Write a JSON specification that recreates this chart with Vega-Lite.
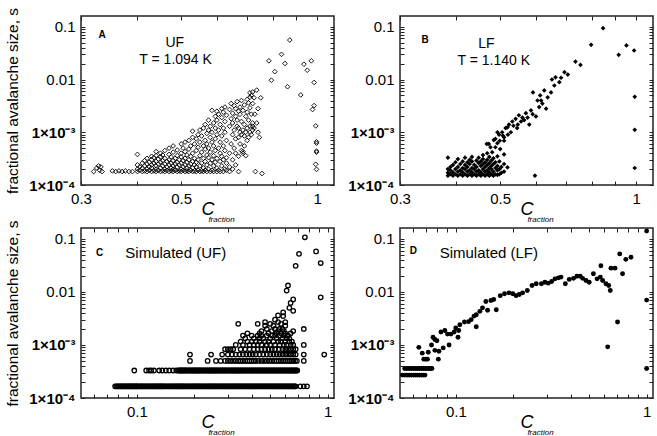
{
"$schema": "https://vega.github.io/schema/vega-lite/v6.json",
"padding": {"left": 5, "top": 6, "right": 0, "bottom": 0},
"background": "white",
"datasets": {
"a": [
{"c":0.32,"s":0.00018},{"c":0.325,"s":0.00021},{"c":0.328,"s":0.00023},{"c":0.33,"s":0.00019},{"c":0.332,"s":0.00022},{"c":0.334,"s":0.00018},
{"c":0.352,"s":0.000185},{"c":0.358,"s":0.00018},{"c":0.364,"s":0.000185},{"c":0.37,"s":0.00018},{"c":0.376,"s":0.000185},{"c":0.383,"s":0.00018},{"c":0.39,"s":0.00018},
{"c":0.40,"s":0.00018},{"c":0.40,"s":0.0002},{"c":0.40,"s":0.00024},{"c":0.40,"s":0.00038},
{"c":0.405,"s":0.00019},{"c":0.405,"s":0.00022},
{"c":0.41,"s":0.00018},{"c":0.41,"s":0.00021},{"c":0.41,"s":0.00026},
{"c":0.415,"s":0.000185},{"c":0.415,"s":0.00023},{"c":0.415,"s":0.00029},
{"c":0.42,"s":0.00018},{"c":0.42,"s":0.0002},{"c":0.42,"s":0.00025},{"c":0.42,"s":0.00032},
{"c":0.425,"s":0.00019},{"c":0.425,"s":0.00022},{"c":0.425,"s":0.00027},
{"c":0.43,"s":0.00018},{"c":0.43,"s":0.00021},{"c":0.43,"s":0.00024},{"c":0.43,"s":0.0003},{"c":0.43,"s":0.00035},
{"c":0.435,"s":0.000185},{"c":0.435,"s":0.00026},{"c":0.435,"s":0.00033},
{"c":0.44,"s":0.00018},{"c":0.44,"s":0.0002},{"c":0.44,"s":0.00023},{"c":0.44,"s":0.00028},{"c":0.44,"s":0.00036},{"c":0.44,"s":0.00043},
{"c":0.445,"s":0.00019},{"c":0.445,"s":0.00025},{"c":0.445,"s":0.00031},
{"c":0.45,"s":0.00018},{"c":0.45,"s":0.00021},{"c":0.45,"s":0.00027},{"c":0.45,"s":0.00034},{"c":0.45,"s":0.0004},
{"c":0.455,"s":0.000185},{"c":0.455,"s":0.00023},{"c":0.455,"s":0.00029},{"c":0.455,"s":0.00037},
{"c":0.46,"s":0.00018},{"c":0.46,"s":0.0002},{"c":0.46,"s":0.00025},{"c":0.46,"s":0.00032},{"c":0.46,"s":0.00045},
{"c":0.465,"s":0.00019},{"c":0.465,"s":0.00022},{"c":0.465,"s":0.00028},
{"c":0.47,"s":0.00018},{"c":0.47,"s":0.00024},{"c":0.47,"s":0.0003},{"c":0.47,"s":0.00038},{"c":0.47,"s":0.0005},
{"c":0.475,"s":0.000185},{"c":0.475,"s":0.00021},{"c":0.475,"s":0.00026},{"c":0.475,"s":0.00034},
{"c":0.48,"s":0.00018},{"c":0.48,"s":0.0002},{"c":0.48,"s":0.00023},{"c":0.48,"s":0.00029},{"c":0.48,"s":0.00042},{"c":0.48,"s":0.00055},
{"c":0.485,"s":0.00019},{"c":0.485,"s":0.00025},{"c":0.485,"s":0.00032},
{"c":0.49,"s":0.00018},{"c":0.49,"s":0.00022},{"c":0.49,"s":0.00027},{"c":0.49,"s":0.00036},{"c":0.49,"s":0.00046},
{"c":0.495,"s":0.000185},{"c":0.495,"s":0.00024},{"c":0.495,"s":0.0003},
{"c":0.5,"s":0.00018},{"c":0.5,"s":0.0002},{"c":0.5,"s":0.00026},{"c":0.5,"s":0.00034},{"c":0.5,"s":0.0004},{"c":0.5,"s":0.0006},
{"c":0.505,"s":0.00019},{"c":0.505,"s":0.00022},{"c":0.505,"s":0.00029},{"c":0.505,"s":0.0005},
{"c":0.51,"s":0.00018},{"c":0.51,"s":0.00024},{"c":0.51,"s":0.00032},{"c":0.51,"s":0.00043},{"c":0.51,"s":0.00065},
{"c":0.515,"s":0.000185},{"c":0.515,"s":0.00021},{"c":0.515,"s":0.00027},{"c":0.515,"s":0.00037},
{"c":0.52,"s":0.00018},{"c":0.52,"s":0.00023},{"c":0.52,"s":0.0003},{"c":0.52,"s":0.00048},{"c":0.52,"s":0.0007},
{"c":0.525,"s":0.00019},{"c":0.525,"s":0.00025},{"c":0.525,"s":0.00035},{"c":0.525,"s":0.00055},
{"c":0.53,"s":0.00018},{"c":0.53,"s":0.00021},{"c":0.53,"s":0.00028},{"c":0.53,"s":0.0004},{"c":0.53,"s":0.0008},{"c":0.53,"s":0.00105},
{"c":0.535,"s":0.000185},{"c":0.535,"s":0.00024},{"c":0.535,"s":0.00032},{"c":0.535,"s":0.0006},
{"c":0.54,"s":0.00018},{"c":0.54,"s":0.00022},{"c":0.54,"s":0.00027},{"c":0.54,"s":0.00045},{"c":0.54,"s":0.00075},
{"c":0.545,"s":0.00019},{"c":0.545,"s":0.0003},{"c":0.545,"s":0.00052},{"c":0.545,"s":0.0009},
{"c":0.55,"s":0.00018},{"c":0.55,"s":0.00023},{"c":0.55,"s":0.00036},{"c":0.55,"s":0.00065},{"c":0.55,"s":0.0011},
{"c":0.555,"s":0.000185},{"c":0.555,"s":0.00026},{"c":0.555,"s":0.00042},{"c":0.555,"s":0.00085},
{"c":0.56,"s":0.00018},{"c":0.56,"s":0.00021},{"c":0.56,"s":0.00032},{"c":0.56,"s":0.00055},{"c":0.56,"s":0.0012},
{"c":0.565,"s":0.00019},{"c":0.565,"s":0.00028},{"c":0.565,"s":0.00048},{"c":0.565,"s":0.0007},{"c":0.565,"s":0.0014},
{"c":0.57,"s":0.00018},{"c":0.57,"s":0.00024},{"c":0.57,"s":0.00037},{"c":0.57,"s":0.0006},{"c":0.57,"s":0.00095},
{"c":0.575,"s":0.0002},{"c":0.575,"s":0.00033},{"c":0.575,"s":0.0005},{"c":0.575,"s":0.0011},{"c":0.575,"s":0.0017},
{"c":0.58,"s":0.00018},{"c":0.58,"s":0.00026},{"c":0.58,"s":0.00042},{"c":0.58,"s":0.0008},{"c":0.58,"s":0.0013},
{"c":0.585,"s":0.00019},{"c":0.585,"s":0.0003},{"c":0.585,"s":0.00065},{"c":0.585,"s":0.001},{"c":0.585,"s":0.0026},
{"c":0.59,"s":0.00018},{"c":0.59,"s":0.00023},{"c":0.59,"s":0.00036},{"c":0.59,"s":0.00055},{"c":0.59,"s":0.0015},
{"c":0.595,"s":0.00027},{"c":0.595,"s":0.00045},{"c":0.595,"s":0.00075},{"c":0.595,"s":0.0012},{"c":0.595,"s":0.002},
{"c":0.6,"s":0.00018},{"c":0.6,"s":0.00021},{"c":0.6,"s":0.00032},{"c":0.6,"s":0.0009},{"c":0.6,"s":0.0017},{"c":0.6,"s":0.0025},
{"c":0.605,"s":0.00019},{"c":0.605,"s":0.0005},{"c":0.605,"s":0.0011},{"c":0.605,"s":0.0022},
{"c":0.61,"s":0.00018},{"c":0.61,"s":0.00028},{"c":0.61,"s":0.0004},{"c":0.61,"s":0.00065},{"c":0.61,"s":0.0014},
{"c":0.615,"s":0.00023},{"c":0.615,"s":0.00035},{"c":0.615,"s":0.00085},{"c":0.615,"s":0.0019},{"c":0.615,"s":0.0028},
{"c":0.62,"s":0.00018},{"c":0.62,"s":0.0003},{"c":0.62,"s":0.00055},{"c":0.62,"s":0.0012},{"c":0.62,"s":0.0024},
{"c":0.625,"s":0.0002},{"c":0.625,"s":0.00045},{"c":0.625,"s":0.001},{"c":0.625,"s":0.0016},{"c":0.625,"s":0.003},
{"c":0.63,"s":0.00019},{"c":0.63,"s":0.00026},{"c":0.63,"s":0.00033},{"c":0.63,"s":0.0007},{"c":0.63,"s":0.0021},
{"c":0.64,"s":0.00018},{"c":0.64,"s":0.00022},{"c":0.64,"s":0.0004},{"c":0.64,"s":0.0013},{"c":0.64,"s":0.0027},
{"c":0.645,"s":0.0006},{"c":0.645,"s":0.0018},{"c":0.645,"s":0.0035},
{"c":0.65,"s":0.0002},{"c":0.65,"s":0.0003},{"c":0.65,"s":0.0009},{"c":0.65,"s":0.0015},{"c":0.65,"s":0.0023},
{"c":0.655,"s":0.0005},{"c":0.655,"s":0.0011},{"c":0.655,"s":0.0032},
{"c":0.66,"s":0.00024},{"c":0.66,"s":0.0004},{"c":0.66,"s":0.00075},{"c":0.66,"s":0.002},{"c":0.66,"s":0.0028},
{"c":0.665,"s":0.0013},{"c":0.665,"s":0.0017},{"c":0.665,"s":0.0038},
{"c":0.67,"s":0.00018},{"c":0.67,"s":0.00035},{"c":0.67,"s":0.0008},{"c":0.67,"s":0.0012},{"c":0.67,"s":0.0025},
{"c":0.675,"s":0.0006},{"c":0.675,"s":0.001},{"c":0.675,"s":0.0022},{"c":0.675,"s":0.003},
{"c":0.68,"s":0.00045},{"c":0.68,"s":0.0009},{"c":0.68,"s":0.0016},{"c":0.68,"s":0.004},
{"c":0.685,"s":0.0004},{"c":0.685,"s":0.00043},{"c":0.685,"s":0.0011},{"c":0.685,"s":0.0026},
{"c":0.69,"s":0.00055},{"c":0.69,"s":0.00085},{"c":0.69,"s":0.0014},{"c":0.69,"s":0.0033},
{"c":0.695,"s":0.00036},{"c":0.695,"s":0.001},{"c":0.695,"s":0.002},
{"c":0.7,"s":0.0007},{"c":0.7,"s":0.0012},{"c":0.7,"s":0.0024},{"c":0.7,"s":0.0042},
{"c":0.705,"s":0.0008},{"c":0.705,"s":0.0017},{"c":0.705,"s":0.0036},
{"c":0.71,"s":0.001},{"c":0.71,"s":0.0013},{"c":0.71,"s":0.0029},{"c":0.71,"s":0.0046},{"c":0.71,"s":0.0056},
{"c":0.715,"s":0.0009},{"c":0.715,"s":0.0022},{"c":0.715,"s":0.005},
{"c":0.72,"s":0.0011},{"c":0.72,"s":0.0015},{"c":0.72,"s":0.0035},{"c":0.72,"s":0.0058},{"c":0.72,"s":0.0013},
{"c":0.725,"s":0.0012},{"c":0.725,"s":0.0045},{"c":0.728,"s":0.0022},{"c":0.735,"s":0.0015},{"c":0.735,"s":0.0063},
{"c":0.74,"s":0.001},{"c":0.74,"s":0.0028},{"c":0.745,"s":0.0008},{"c":0.75,"s":0.0045},
{"c":0.73,"s":0.00018},{"c":0.755,"s":0.000165},
{"c":0.87,"s":0.056},{"c":0.782,"s":0.0226},{"c":0.806,"s":0.0141},{"c":0.792,"s":0.0097},{"c":0.834,"s":0.030},{"c":0.849,"s":0.0201},{"c":0.86,"s":0.0073},{"c":0.92,"s":0.0051},{"c":0.935,"s":0.0195},{"c":0.951,"s":0.015},{"c":0.971,"s":0.0226},{"c":0.985,"s":0.0088},{"c":0.985,"s":0.0032},{"c":0.977,"s":0.0027},{"c":0.993,"s":0.00132},{"c":0.997,"s":0.00066},{"c":0.997,"s":0.00062},{"c":0.997,"s":0.00044},{"c":0.997,"s":0.00042},{"c":0.993,"s":0.000247},{"c":0.997,"s":0.000198}
],
"b": [
{"c":0.734,"s":0.0219},{"c":0.753,"s":0.0189},{"c":0.706,"s":0.0124},{"c":0.694,"s":0.0138},{"c":0.682,"s":0.0108},{"c":0.676,"s":0.0089},{"c":0.651,"s":0.010},{"c":0.659,"s":0.0077},{"c":0.626,"s":0.0062},{"c":0.613,"s":0.005},{"c":0.591,"s":0.0057},{"c":0.605,"s":0.004},{"c":0.632,"s":0.0028},{"c":0.61,"s":0.003},{"c":0.585,"s":0.0026},{"c":0.57,"s":0.0023},{"c":0.56,"s":0.0019},{"c":0.55,"s":0.0021},{"c":0.541,"s":0.0018},{"c":0.532,"s":0.0016},{"c":0.523,"s":0.0014},{"c":0.514,"s":0.0012},{"c":0.505,"s":0.001},{"c":0.497,"s":0.0009},{"c":0.493,"s":0.00062},{"c":0.488,"s":0.00052},{"c":0.484,"s":0.00071},{"c":0.48,"s":0.00042},{"c":0.5,"s":0.00048},{"c":0.51,"s":0.00069},{"c":0.528,"s":0.001},{"c":0.547,"s":0.0014},{"c":0.556,"s":0.0016},{"c":0.575,"s":0.0019},{"c":0.58,"s":0.0014},{"c":0.6,"s":0.002},{"c":0.616,"s":0.004},{"c":0.637,"s":0.0046},{"c":0.648,"s":0.0057},{"c":0.663,"s":0.011},{"c":0.519,"s":0.00124},{"c":0.535,"s":0.00133},{"c":0.507,"s":0.00086},{"c":0.499,"s":0.00069},{"c":0.493,"s":0.001},{"c":0.488,"s":0.00075},{"c":0.476,"s":0.00052},{"c":0.472,"s":0.0006},{"c":0.467,"s":0.0006},{"c":0.565,"s":0.0017},{"c":0.59,"s":0.0022},{"c":0.62,"s":0.0035},{"c":0.545,"s":0.0012},{"c":0.52,"s":0.0009},{"c":0.51,"s":0.0008},
{"c":0.845,"s":0.094},{"c":0.795,"s":0.0455},{"c":0.915,"s":0.0294},{"c":0.952,"s":0.0443},{"c":0.99,"s":0.0355},{"c":0.993,"s":0.0047},{"c":0.993,"s":0.00111},{"c":0.993,"s":0.00021},{"c":0.597,"s":0.00015},{"c":0.519,"s":0.000216},
{"c":0.383,"s":0.00015},{"c":0.383,"s":0.00017},{"c":0.383,"s":0.0002},{"c":0.383,"s":0.00033},
{"c":0.388,"s":0.00016},{"c":0.388,"s":0.00019},{"c":0.388,"s":0.00022},
{"c":0.393,"s":0.00015},{"c":0.393,"s":0.000175},{"c":0.393,"s":0.00024},
{"c":0.398,"s":0.00016},{"c":0.398,"s":0.0002},{"c":0.398,"s":0.00027},
{"c":0.403,"s":0.00015},{"c":0.403,"s":0.00018},{"c":0.403,"s":0.00022},{"c":0.403,"s":0.00031},
{"c":0.408,"s":0.00016},{"c":0.408,"s":0.00019},{"c":0.408,"s":0.00025},
{"c":0.413,"s":0.00015},{"c":0.413,"s":0.000175},{"c":0.413,"s":0.00021},{"c":0.413,"s":0.00028},
{"c":0.418,"s":0.00016},{"c":0.418,"s":0.0002},{"c":0.418,"s":0.00024},{"c":0.418,"s":0.00033},
{"c":0.423,"s":0.00015},{"c":0.423,"s":0.00018},{"c":0.423,"s":0.00022},{"c":0.423,"s":0.00027},
{"c":0.428,"s":0.00016},{"c":0.428,"s":0.00019},{"c":0.428,"s":0.00025},{"c":0.428,"s":0.0003},
{"c":0.433,"s":0.00015},{"c":0.433,"s":0.000175},{"c":0.433,"s":0.00021},{"c":0.433,"s":0.00028},{"c":0.433,"s":0.00034},
{"c":0.438,"s":0.00016},{"c":0.438,"s":0.0002},{"c":0.438,"s":0.00024},
{"c":0.443,"s":0.00015},{"c":0.443,"s":0.00018},{"c":0.443,"s":0.00022},{"c":0.443,"s":0.00029},
{"c":0.448,"s":0.00016},{"c":0.448,"s":0.00019},{"c":0.448,"s":0.00026},{"c":0.448,"s":0.00033},
{"c":0.453,"s":0.00015},{"c":0.453,"s":0.000175},{"c":0.453,"s":0.00023},{"c":0.453,"s":0.00028},
{"c":0.458,"s":0.00016},{"c":0.458,"s":0.0002},{"c":0.458,"s":0.00025},{"c":0.458,"s":0.00031},{"c":0.458,"s":0.00037},
{"c":0.463,"s":0.00015},{"c":0.463,"s":0.00018},{"c":0.463,"s":0.00022},{"c":0.463,"s":0.00027},
{"c":0.468,"s":0.00016},{"c":0.468,"s":0.00019},{"c":0.468,"s":0.00024},{"c":0.468,"s":0.0003},{"c":0.468,"s":0.0004},
{"c":0.473,"s":0.00015},{"c":0.473,"s":0.000175},{"c":0.473,"s":0.00021},{"c":0.473,"s":0.00026},{"c":0.473,"s":0.00034},
{"c":0.478,"s":0.00016},{"c":0.478,"s":0.0002},{"c":0.478,"s":0.00023},{"c":0.478,"s":0.00029},
{"c":0.483,"s":0.00015},{"c":0.483,"s":0.00018},{"c":0.483,"s":0.00025},{"c":0.483,"s":0.00032},
{"c":0.488,"s":0.00016},{"c":0.488,"s":0.00021},{"c":0.488,"s":0.00027},
{"c":0.493,"s":0.000155},{"c":0.493,"s":0.00019},{"c":0.493,"s":0.00023},{"c":0.493,"s":0.00035},
{"c":0.498,"s":0.00016},{"c":0.498,"s":0.0002},{"c":0.498,"s":0.00028},
{"c":0.503,"s":0.00017},{"c":0.503,"s":0.00022},
{"c":0.51,"s":0.00018},{"c":0.51,"s":0.00025},{"c":0.51,"s":0.00038}
],
"c": [
{"c":0.077,"s":0.000166},{"c":0.078,"s":0.000166},{"c":0.079,"s":0.000166},{"c":0.08,"s":0.000166},{"c":0.081,"s":0.000166},{"c":0.082,"s":0.000166},{"c":0.083,"s":0.000166},{"c":0.084,"s":0.000166},{"c":0.085,"s":0.000166},{"c":0.086,"s":0.000166},{"c":0.087,"s":0.000166},{"c":0.088,"s":0.000166},{"c":0.089,"s":0.000166},{"c":0.09,"s":0.000166},{"c":0.091,"s":0.000166},{"c":0.092,"s":0.000166},{"c":0.093,"s":0.000166},{"c":0.094,"s":0.000166},{"c":0.095,"s":0.000166},{"c":0.096,"s":0.000166},{"c":0.097,"s":0.000166},{"c":0.098,"s":0.000166},{"c":0.099,"s":0.000166},{"c":0.1,"s":0.000166},{"c":0.101,"s":0.000166},{"c":0.102,"s":0.000166},{"c":0.1035,"s":0.000166},{"c":0.105,"s":0.000166},{"c":0.106,"s":0.000166},{"c":0.107,"s":0.000166},{"c":0.1085,"s":0.000166},{"c":0.11,"s":0.000166},{"c":0.111,"s":0.000166},{"c":0.1125,"s":0.000166},{"c":0.114,"s":0.000166},{"c":0.1155,"s":0.000166},{"c":0.117,"s":0.000166},{"c":0.1185,"s":0.000166},{"c":0.12,"s":0.000166},{"c":0.1215,"s":0.000166},{"c":0.123,"s":0.000166},{"c":0.1245,"s":0.000166},{"c":0.126,"s":0.000166},{"c":0.1275,"s":0.000166},{"c":0.129,"s":0.000166},{"c":0.1305,"s":0.000166},{"c":0.132,"s":0.000166},{"c":0.1335,"s":0.000166},{"c":0.135,"s":0.000166},{"c":0.1365,"s":0.000166},{"c":0.138,"s":0.000166},{"c":0.14,"s":0.000166},{"c":0.142,"s":0.000166},{"c":0.144,"s":0.000166},{"c":0.146,"s":0.000166},{"c":0.148,"s":0.000166},{"c":0.15,"s":0.000166},{"c":0.152,"s":0.000166},{"c":0.154,"s":0.000166},{"c":0.156,"s":0.000166},{"c":0.158,"s":0.000166},{"c":0.16,"s":0.000166},{"c":0.162,"s":0.000166},{"c":0.164,"s":0.000166},{"c":0.166,"s":0.000166},{"c":0.168,"s":0.000166},{"c":0.17,"s":0.000166},{"c":0.172,"s":0.000166},{"c":0.174,"s":0.000166},{"c":0.176,"s":0.000166},{"c":0.178,"s":0.000166},{"c":0.1805,"s":0.000166},{"c":0.183,"s":0.000166},{"c":0.1855,"s":0.000166},{"c":0.188,"s":0.000166},{"c":0.1905,"s":0.000166},{"c":0.193,"s":0.000166},{"c":0.1955,"s":0.000166},{"c":0.198,"s":0.000166},{"c":0.2005,"s":0.000166},{"c":0.203,"s":0.000166},{"c":0.2055,"s":0.000166},{"c":0.208,"s":0.000166},{"c":0.2105,"s":0.000166},{"c":0.213,"s":0.000166},{"c":0.216,"s":0.000166},{"c":0.219,"s":0.000166},{"c":0.222,"s":0.000166},{"c":0.225,"s":0.000166},{"c":0.228,"s":0.000166},{"c":0.231,"s":0.000166},{"c":0.234,"s":0.000166},{"c":0.237,"s":0.000166},{"c":0.24,"s":0.000166},{"c":0.243,"s":0.000166},{"c":0.246,"s":0.000166},{"c":0.249,"s":0.000166},{"c":0.252,"s":0.000166},{"c":0.255,"s":0.000166},{"c":0.2585,"s":0.000166},{"c":0.262,"s":0.000166},{"c":0.2655,"s":0.000166},{"c":0.269,"s":0.000166},{"c":0.2725,"s":0.000166},{"c":0.276,"s":0.000166},{"c":0.2795,"s":0.000166},{"c":0.283,"s":0.000166},{"c":0.2865,"s":0.000166},{"c":0.29,"s":0.000166},{"c":0.2935,"s":0.000166},{"c":0.297,"s":0.000166},{"c":0.301,"s":0.000166},{"c":0.305,"s":0.000166},{"c":0.309,"s":0.000166},{"c":0.313,"s":0.000166},{"c":0.317,"s":0.000166},{"c":0.321,"s":0.000166},{"c":0.325,"s":0.000166},{"c":0.329,"s":0.000166},{"c":0.333,"s":0.000166},{"c":0.337,"s":0.000166},{"c":0.3415,"s":0.000166},{"c":0.346,"s":0.000166},{"c":0.3505,"s":0.000166},{"c":0.355,"s":0.000166},{"c":0.3595,"s":0.000166},{"c":0.364,"s":0.000166},{"c":0.3685,"s":0.000166},{"c":0.373,"s":0.000166},{"c":0.378,"s":0.000166},{"c":0.383,"s":0.000166},{"c":0.388,"s":0.000166},{"c":0.393,"s":0.000166},{"c":0.398,"s":0.000166},{"c":0.403,"s":0.000166},{"c":0.408,"s":0.000166},{"c":0.413,"s":0.000166},{"c":0.4185,"s":0.000166},{"c":0.424,"s":0.000166},{"c":0.4295,"s":0.000166},{"c":0.435,"s":0.000166},{"c":0.4405,"s":0.000166},{"c":0.446,"s":0.000166},{"c":0.4515,"s":0.000166},{"c":0.457,"s":0.000166},{"c":0.463,"s":0.000166},{"c":0.469,"s":0.000166},{"c":0.475,"s":0.000166},{"c":0.481,"s":0.000166},{"c":0.487,"s":0.000166},{"c":0.493,"s":0.000166},{"c":0.4995,"s":0.000166},{"c":0.506,"s":0.000166},{"c":0.5125,"s":0.000166},{"c":0.519,"s":0.000166},{"c":0.5255,"s":0.000166},{"c":0.532,"s":0.000166},{"c":0.539,"s":0.000166},{"c":0.546,"s":0.000166},{"c":0.553,"s":0.000166},{"c":0.56,"s":0.000166},{"c":0.567,"s":0.000166},{"c":0.574,"s":0.000166},{"c":0.5815,"s":0.000166},{"c":0.589,"s":0.000166},{"c":0.5965,"s":0.000166},{"c":0.604,"s":0.000166},{"c":0.6115,"s":0.000166},{"c":0.619,"s":0.000166},{"c":0.627,"s":0.000166},{"c":0.635,"s":0.000166},{"c":0.643,"s":0.000166},{"c":0.651,"s":0.000166},{"c":0.659,"s":0.000166},{"c":0.667,"s":0.000166},{"c":0.6735,"s":0.000166},{"c":0.68,"s":0.000166},{"c":0.72,"s":0.000166},{"c":0.75,"s":0.000166},{"c":0.78,"s":0.000166},
{"c":0.097,"s":0.00033},{"c":0.112,"s":0.00033},{"c":0.116,"s":0.00033},{"c":0.119,"s":0.00033},{"c":0.123,"s":0.00033},{"c":0.131,"s":0.00033},{"c":0.136,"s":0.00033},{"c":0.142,"s":0.00033},{"c":0.148,"s":0.00033},{"c":0.155,"s":0.00033},{"c":0.161,"s":0.00033},
{"c":0.165,"s":0.00033},{"c":0.167,"s":0.00033},{"c":0.169,"s":0.00033},{"c":0.171,"s":0.00033},{"c":0.173,"s":0.00033},{"c":0.175,"s":0.00033},{"c":0.177,"s":0.00033},{"c":0.179,"s":0.00033},{"c":0.181,"s":0.00033},{"c":0.1835,"s":0.00033},{"c":0.186,"s":0.00033},{"c":0.1885,"s":0.00033},{"c":0.191,"s":0.00033},{"c":0.1935,"s":0.00033},{"c":0.196,"s":0.00033},{"c":0.1985,"s":0.00033},{"c":0.201,"s":0.00033},{"c":0.2035,"s":0.00033},{"c":0.206,"s":0.00033},{"c":0.2085,"s":0.00033},{"c":0.211,"s":0.00033},{"c":0.2135,"s":0.00033},{"c":0.216,"s":0.00033},{"c":0.219,"s":0.00033},{"c":0.222,"s":0.00033},{"c":0.225,"s":0.00033},{"c":0.228,"s":0.00033},{"c":0.231,"s":0.00033},{"c":0.234,"s":0.00033},{"c":0.237,"s":0.00033},{"c":0.24,"s":0.00033},{"c":0.243,"s":0.00033},{"c":0.246,"s":0.00033},{"c":0.249,"s":0.00033},{"c":0.252,"s":0.00033},{"c":0.255,"s":0.00033},{"c":0.258,"s":0.00033},{"c":0.2615,"s":0.00033},{"c":0.265,"s":0.00033},{"c":0.2685,"s":0.00033},{"c":0.272,"s":0.00033},{"c":0.2755,"s":0.00033},{"c":0.279,"s":0.00033},{"c":0.2825,"s":0.00033},{"c":0.286,"s":0.00033},{"c":0.2895,"s":0.00033},{"c":0.293,"s":0.00033},{"c":0.297,"s":0.00033},{"c":0.301,"s":0.00033},{"c":0.305,"s":0.00033},{"c":0.309,"s":0.00033},{"c":0.313,"s":0.00033},{"c":0.317,"s":0.00033},{"c":0.321,"s":0.00033},{"c":0.325,"s":0.00033},{"c":0.329,"s":0.00033},{"c":0.333,"s":0.00033},{"c":0.337,"s":0.00033},{"c":0.341,"s":0.00033},{"c":0.3455,"s":0.00033},{"c":0.35,"s":0.00033},{"c":0.3545,"s":0.00033},{"c":0.359,"s":0.00033},{"c":0.3635,"s":0.00033},{"c":0.368,"s":0.00033},{"c":0.373,"s":0.00033},{"c":0.378,"s":0.00033},{"c":0.383,"s":0.00033},{"c":0.388,"s":0.00033},{"c":0.393,"s":0.00033},{"c":0.398,"s":0.00033},{"c":0.403,"s":0.00033},{"c":0.408,"s":0.00033},{"c":0.413,"s":0.00033},{"c":0.418,"s":0.00033},{"c":0.4235,"s":0.00033},{"c":0.429,"s":0.00033},{"c":0.4345,"s":0.00033},{"c":0.44,"s":0.00033},{"c":0.4455,"s":0.00033},{"c":0.451,"s":0.00033},{"c":0.457,"s":0.00033},{"c":0.463,"s":0.00033},{"c":0.469,"s":0.00033},{"c":0.475,"s":0.00033},{"c":0.481,"s":0.00033},{"c":0.487,"s":0.00033},{"c":0.4935,"s":0.00033},{"c":0.5,"s":0.00033},{"c":0.5065,"s":0.00033},{"c":0.513,"s":0.00033},{"c":0.5195,"s":0.00033},{"c":0.526,"s":0.00033},{"c":0.533,"s":0.00033},{"c":0.54,"s":0.00033},{"c":0.547,"s":0.00033},{"c":0.554,"s":0.00033},{"c":0.561,"s":0.00033},{"c":0.568,"s":0.00033},{"c":0.5755,"s":0.00033},{"c":0.583,"s":0.00033},{"c":0.5905,"s":0.00033},{"c":0.598,"s":0.00033},{"c":0.6055,"s":0.00033},{"c":0.613,"s":0.00033},{"c":0.621,"s":0.00033},{"c":0.629,"s":0.00033},{"c":0.637,"s":0.00033},{"c":0.645,"s":0.00033},{"c":0.653,"s":0.00033},{"c":0.661,"s":0.00033},{"c":0.669,"s":0.00033},{"c":0.677,"s":0.00033},{"c":0.685,"s":0.00033},{"c":0.693,"s":0.00033},
{"c":0.19,"s":0.0005},{"c":0.235,"s":0.0005},{"c":0.26,"s":0.0005},{"c":0.275,"s":0.0005},{"c":0.29,"s":0.0005},{"c":0.3,"s":0.0005},{"c":0.31,"s":0.0005},{"c":0.32,"s":0.0005},{"c":0.33,"s":0.0005},{"c":0.34,"s":0.0005},{"c":0.35,"s":0.0005},{"c":0.36,"s":0.0005},{"c":0.37,"s":0.0005},{"c":0.38,"s":0.0005},{"c":0.39,"s":0.0005},{"c":0.4,"s":0.0005},{"c":0.41,"s":0.0005},{"c":0.42,"s":0.0005},{"c":0.435,"s":0.0005},{"c":0.45,"s":0.0005},{"c":0.465,"s":0.0005},{"c":0.48,"s":0.0005},{"c":0.495,"s":0.0005},{"c":0.51,"s":0.0005},{"c":0.525,"s":0.0005},{"c":0.54,"s":0.0005},{"c":0.555,"s":0.0005},{"c":0.57,"s":0.0005},{"c":0.585,"s":0.0005},{"c":0.6,"s":0.0005},{"c":0.615,"s":0.0005},{"c":0.63,"s":0.0005},{"c":0.645,"s":0.0005},{"c":0.66,"s":0.0005},{"c":0.675,"s":0.0005},{"c":0.69,"s":0.0005},{"c":0.75,"s":0.0005},
{"c":0.19,"s":0.00066},{"c":0.245,"s":0.00066},{"c":0.28,"s":0.00066},{"c":0.3,"s":0.00066},{"c":0.315,"s":0.00066},{"c":0.33,"s":0.00066},{"c":0.345,"s":0.00066},{"c":0.36,"s":0.00066},{"c":0.375,"s":0.00066},{"c":0.39,"s":0.00066},{"c":0.405,"s":0.00066},{"c":0.42,"s":0.00066},{"c":0.44,"s":0.00066},{"c":0.46,"s":0.00066},{"c":0.48,"s":0.00066},{"c":0.5,"s":0.00066},{"c":0.52,"s":0.00066},{"c":0.54,"s":0.00066},{"c":0.56,"s":0.00066},{"c":0.58,"s":0.00066},{"c":0.6,"s":0.00066},{"c":0.62,"s":0.00066},{"c":0.64,"s":0.00066},{"c":0.66,"s":0.00066},{"c":0.68,"s":0.00066},{"c":0.75,"s":0.00066},{"c":0.96,"s":0.00066},
{"c":0.29,"s":0.00083},{"c":0.3,"s":0.00083},{"c":0.31,"s":0.00083},{"c":0.32,"s":0.00083},{"c":0.35,"s":0.00083},{"c":0.37,"s":0.00083},{"c":0.39,"s":0.00083},{"c":0.41,"s":0.00083},{"c":0.43,"s":0.00083},{"c":0.45,"s":0.00083},{"c":0.47,"s":0.00083},{"c":0.49,"s":0.00083},{"c":0.51,"s":0.00083},{"c":0.53,"s":0.00083},{"c":0.555,"s":0.00083},{"c":0.58,"s":0.00083},{"c":0.6,"s":0.00083},{"c":0.62,"s":0.00083},{"c":0.64,"s":0.00083},{"c":0.66,"s":0.00083},{"c":0.68,"s":0.00083},
{"c":0.33,"s":0.001},{"c":0.36,"s":0.001},{"c":0.39,"s":0.001},{"c":0.41,"s":0.001},{"c":0.43,"s":0.001},{"c":0.45,"s":0.001},{"c":0.48,"s":0.001},{"c":0.5,"s":0.001},{"c":0.53,"s":0.001},{"c":0.56,"s":0.001},{"c":0.59,"s":0.001},{"c":0.61,"s":0.001},{"c":0.64,"s":0.001},{"c":0.66,"s":0.001},{"c":0.75,"s":0.001},
{"c":0.35,"s":0.00116},{"c":0.38,"s":0.00116},{"c":0.4,"s":0.00116},{"c":0.42,"s":0.00116},{"c":0.44,"s":0.00116},{"c":0.47,"s":0.00116},{"c":0.49,"s":0.00116},{"c":0.52,"s":0.00116},{"c":0.55,"s":0.00116},{"c":0.57,"s":0.00116},{"c":0.6,"s":0.00116},{"c":0.63,"s":0.00116},{"c":0.65,"s":0.00116},
{"c":0.37,"s":0.00133},{"c":0.41,"s":0.00133},{"c":0.44,"s":0.00133},{"c":0.46,"s":0.00133},{"c":0.5,"s":0.00133},{"c":0.54,"s":0.00133},{"c":0.58,"s":0.00133},{"c":0.61,"s":0.00133},{"c":0.63,"s":0.00133},
{"c":0.36,"s":0.0015},{"c":0.4,"s":0.0015},{"c":0.43,"s":0.0015},{"c":0.45,"s":0.0015},{"c":0.48,"s":0.0015},{"c":0.51,"s":0.0015},{"c":0.53,"s":0.0015},{"c":0.56,"s":0.0015},{"c":0.59,"s":0.0015},{"c":0.62,"s":0.0015},
{"c":0.38,"s":0.00166},{"c":0.44,"s":0.00166},{"c":0.49,"s":0.00166},{"c":0.54,"s":0.00166},{"c":0.57,"s":0.00166},{"c":0.6,"s":0.00166},{"c":0.64,"s":0.00166},
{"c":0.45,"s":0.00183},{"c":0.51,"s":0.00183},{"c":0.55,"s":0.00183},{"c":0.59,"s":0.00183},{"c":0.66,"s":0.00183},
{"c":0.48,"s":0.002},{"c":0.53,"s":0.002},{"c":0.56,"s":0.002},{"c":0.58,"s":0.002},{"c":0.75,"s":0.002},
{"c":0.47,"s":0.0023},{"c":0.52,"s":0.0023},{"c":0.6,"s":0.0023},
{"c":0.34,"s":0.0025},{"c":0.43,"s":0.0025},{"c":0.5,"s":0.0025},{"c":0.57,"s":0.0025},
{"c":0.47,"s":0.0027},{"c":0.55,"s":0.0027},{"c":0.6,"s":0.0027},
{"c":0.53,"s":0.003},{"c":0.585,"s":0.0035},{"c":0.55,"s":0.0036},{"c":0.585,"s":0.0041},{"c":0.63,"s":0.005},{"c":0.66,"s":0.0044},{"c":0.64,"s":0.0062},{"c":0.66,"s":0.0072},{"c":0.61,"s":0.0106},{"c":0.62,"s":0.0132},
{"c":0.68,"s":0.031},{"c":0.708,"s":0.052},{"c":0.76,"s":0.107},{"c":0.87,"s":0.058},{"c":0.92,"s":0.035},{"c":0.92,"s":0.0079}
],
"d": [
{"c":0.0525,"s":0.00027},{"c":0.054,"s":0.00027},{"c":0.0555,"s":0.00027},{"c":0.057,"s":0.00027},{"c":0.0585,"s":0.00027},{"c":0.06,"s":0.00027},{"c":0.0615,"s":0.00027},{"c":0.063,"s":0.00027},{"c":0.0645,"s":0.00027},{"c":0.066,"s":0.00027},{"c":0.0675,"s":0.00027},{"c":0.069,"s":0.00027},
{"c":0.054,"s":0.00036},{"c":0.0555,"s":0.00036},{"c":0.057,"s":0.00036},{"c":0.0585,"s":0.00036},{"c":0.06,"s":0.00036},{"c":0.0615,"s":0.00036},{"c":0.063,"s":0.00036},{"c":0.0645,"s":0.00036},{"c":0.066,"s":0.00036},{"c":0.0675,"s":0.00036},{"c":0.069,"s":0.00036},{"c":0.0705,"s":0.00036},{"c":0.072,"s":0.00036},{"c":0.0735,"s":0.00036},{"c":0.075,"s":0.00036},
{"c":0.068,"s":0.00054},{"c":0.0695,"s":0.00054},{"c":0.071,"s":0.00054},{"c":0.081,"s":0.00054},
{"c":0.064,"s":0.0009},{"c":0.0667,"s":0.0007},{"c":0.0717,"s":0.00073},{"c":0.0746,"s":0.001},{"c":0.076,"s":0.0014},{"c":0.0777,"s":0.00127},{"c":0.0796,"s":0.0012},{"c":0.0777,"s":0.00079},{"c":0.0816,"s":0.00076},{"c":0.0859,"s":0.00088},{"c":0.0836,"s":0.00175},{"c":0.0876,"s":0.00187},{"c":0.0905,"s":0.0016},{"c":0.0943,"s":0.0016},{"c":0.0981,"s":0.00175},{"c":0.1,"s":0.00208},{"c":0.1036,"s":0.00187},{"c":0.105,"s":0.0024},{"c":0.0922,"s":0.001},{"c":0.1027,"s":0.0014},
{"c":0.111,"s":0.0027},{"c":0.1166,"s":0.00275},{"c":0.1204,"s":0.003},{"c":0.1245,"s":0.0035},{"c":0.128,"s":0.0037},{"c":0.128,"s":0.0022},{"c":0.1337,"s":0.0043},{"c":0.138,"s":0.005},{"c":0.1437,"s":0.0066},{"c":0.1467,"s":0.0045},{"c":0.1528,"s":0.0069},{"c":0.158,"s":0.0072},{"c":0.163,"s":0.0046},{"c":0.171,"s":0.0085},{"c":0.18,"s":0.0092},{"c":0.19,"s":0.0096},{"c":0.199,"s":0.0092},{"c":0.207,"s":0.0085},{"c":0.215,"s":0.0089},{"c":0.224,"s":0.0096},{"c":0.237,"s":0.0106},{"c":0.251,"s":0.0132},{"c":0.264,"s":0.0142},{"c":0.281,"s":0.0142},{"c":0.293,"s":0.0152},{"c":0.305,"s":0.0146},{"c":0.318,"s":0.0157},{"c":0.331,"s":0.0176},{"c":0.345,"s":0.0184},{"c":0.356,"s":0.019},{"c":0.375,"s":0.0142},{"c":0.393,"s":0.0172},{"c":0.414,"s":0.018},{"c":0.431,"s":0.0197},{"c":0.449,"s":0.0197},{"c":0.462,"s":0.018},{"c":0.481,"s":0.0164},{"c":0.5,"s":0.0152},{"c":0.526,"s":0.022},{"c":0.55,"s":0.0176},{"c":0.572,"s":0.019},{"c":0.588,"s":0.0164},{"c":0.612,"s":0.0142},{"c":0.633,"s":0.0132},{"c":0.645,"s":0.0106},
{"c":0.576,"s":0.031},{"c":0.625,"s":0.00092},{"c":0.65,"s":0.028},{"c":0.683,"s":0.028},{"c":0.704,"s":0.0027},{"c":0.723,"s":0.052},{"c":0.748,"s":0.022},{"c":0.778,"s":0.041},{"c":0.828,"s":0.045},{"c":1.0,"s":0.14},{"c":1.0,"s":0.007},{"c":1.0,"s":0.00036}
],
"a_let": [{"c":0.334,"s":0.07,"t":"A"}],
"a_lab": [{"c":0.484,"s":0.05,"t":"UF"},{"c":0.486,"s":0.0232,"t":"T = 1.094 K"}],
"b_let": [{"c":0.341,"s":0.056,"t":"B"}],
"b_lab": [{"c":0.466,"s":0.047,"t":"LF"},{"c":0.484,"s":0.0225,"t":"T = 1.140 K"}],
"c_let": [{"c":0.0638,"s":0.0545,"t":"C"}],
"c_lab": [{"c":0.16,"s":0.053,"t":"Simulated (UF)"}],
"d_let": [{"c":0.06,"s":0.0586,"t":"D"}],
"d_lab": [{"c":0.149,"s":0.053,"t":"Simulated (LF)"}]
},
"vconcat": [
{"hconcat": [
{
"width": 253, "height": 169,
"view": {"stroke": "#222", "strokeWidth": 1.5},
"title": {"text": "fraction", "orient": "bottom", "anchor": "middle", "fontSize": 8, "fontStyle": "italic", "fontWeight": "normal", "font": "Liberation Sans", "dx": 14, "offset": -2},
"layer": [
{"data": {"name": "a"}, "mark": {"type": "point", "shape": "diamond", "filled": false, "color": "black", "size": 22, "strokeWidth": 0.9, "opacity": 1},
 "encoding": {
  "x": {"field": "c", "type": "quantitative", "scale": {"type": "log", "domain": [0.3, 1.09], "nice": false}, "axis": {"orient": "bottom", "domain": false, "values": [0.3,0.4,0.5,0.6,0.7,0.8,0.9,1], "labelExpr": "datum.value == 0.3 ? '0.3' : datum.value == 0.5 ? '0.5' : datum.value == 1 ? '1' : ''", "title": "C", "titleFontStyle": "italic", "titleFontSize": 18, "titleFontWeight": "normal", "titlePadding": -6, "labelPadding": 10}},
  "y": {"field": "s", "type": "quantitative", "scale": {"type": "log", "domain": [0.0001, 0.16], "nice": false}, "axis": {"orient": "left", "domain": false, "values": [0.0001,0.0002,0.0003,0.0004,0.0005,0.0006,0.0007,0.0008,0.0009,0.001,0.002,0.003,0.004,0.005,0.006,0.007,0.008,0.009,0.01,0.02,0.03,0.04,0.05,0.06,0.07,0.08,0.09,0.1], "labelExpr": "datum.value == 0.1 ? '0.1' : datum.value == 0.01 ? '0.01' : datum.value == 0.001 ? '1×10⁻³' : datum.value == 0.0001 ? '1×10⁻⁴' : ''", "labelFontWeight": {"condition": {"test": "datum.value < 0.005", "value": "bold"}, "value": "normal"}, "title": "fractional avalanche size, s", "titleFontSize": 15.5, "titleFontWeight": "normal", "titlePadding": 8, "labelPadding": 10}}
 }},
{"data": {"name": "a_lab"}, "mark": {"type": "text", "fontSize": 14, "font": "Liberation Sans", "color": "black", "align": "center", "baseline": "middle"},
 "encoding": {
  "x": {"field": "c", "type": "quantitative", "scale": {"type": "log", "domain": [0.3, 1.09], "nice": false}, "axis": {"orient": "top", "domain": false, "values": [0.3,0.4,0.5,0.6,0.7,0.8,0.9,1], "labels": false, "title": null}},
  "y": {"field": "s", "type": "quantitative", "scale": {"type": "log", "domain": [0.0001, 0.16], "nice": false}, "axis": {"orient": "right", "domain": false, "values": [0.0001,0.0002,0.0003,0.0004,0.0005,0.0006,0.0007,0.0008,0.0009,0.001,0.002,0.003,0.004,0.005,0.006,0.007,0.008,0.009,0.01,0.02,0.03,0.04,0.05,0.06,0.07,0.08,0.09,0.1], "labels": false, "title": null}},
  "text": {"field": "t"}
 }},
{"data": {"name": "a_let"}, "mark": {"type": "text", "fontSize": 10, "fontWeight": "bold", "font": "Liberation Sans", "color": "black", "align": "center", "baseline": "middle"},
 "encoding": {
  "x": {"field": "c", "type": "quantitative", "scale": {"type": "log", "domain": [0.3, 1.09], "nice": false}, "axis": null},
  "y": {"field": "s", "type": "quantitative", "scale": {"type": "log", "domain": [0.0001, 0.16], "nice": false}, "axis": null},
  "text": {"field": "t"}
 }}
],
"resolve": {"axis": {"x": "independent", "y": "independent"}}
},
{
"width": 253, "height": 169,
"view": {"stroke": "#222", "strokeWidth": 1.5},
"title": {"text": "fraction", "orient": "bottom", "anchor": "middle", "fontSize": 8, "fontStyle": "italic", "fontWeight": "normal", "font": "Liberation Sans", "dx": 14, "offset": -2},
"layer": [
{"data": {"name": "b"}, "mark": {"type": "point", "shape": "diamond", "filled": true, "color": "black", "size": 22, "opacity": 1},
 "encoding": {
  "x": {"field": "c", "type": "quantitative", "scale": {"type": "log", "domain": [0.3, 1.09], "nice": false}, "axis": {"orient": "bottom", "domain": false, "values": [0.3,0.4,0.5,0.6,0.7,0.8,0.9,1], "labelExpr": "datum.value == 0.3 ? '0.3' : datum.value == 0.5 ? '0.5' : datum.value == 1 ? '1' : ''", "title": "C", "titleFontStyle": "italic", "titleFontSize": 18, "titleFontWeight": "normal", "titlePadding": -6, "labelPadding": 10}},
  "y": {"field": "s", "type": "quantitative", "scale": {"type": "log", "domain": [0.0001, 0.16], "nice": false}, "axis": {"orient": "left", "domain": false, "values": [0.0001,0.0002,0.0003,0.0004,0.0005,0.0006,0.0007,0.0008,0.0009,0.001,0.002,0.003,0.004,0.005,0.006,0.007,0.008,0.009,0.01,0.02,0.03,0.04,0.05,0.06,0.07,0.08,0.09,0.1], "labelExpr": "datum.value == 0.1 ? '0.1' : datum.value == 0.01 ? '0.01' : datum.value == 0.001 ? '1×10⁻³' : datum.value == 0.0001 ? '1×10⁻⁴' : ''", "labelFontWeight": {"condition": {"test": "datum.value < 0.005", "value": "bold"}, "value": "normal"}, "title": null, "labelPadding": 10}}
 }},
{"data": {"name": "b_lab"}, "mark": {"type": "text", "fontSize": 14, "font": "Liberation Sans", "color": "black", "align": "center", "baseline": "middle"},
 "encoding": {
  "x": {"field": "c", "type": "quantitative", "scale": {"type": "log", "domain": [0.3, 1.09], "nice": false}, "axis": {"orient": "top", "domain": false, "values": [0.3,0.4,0.5,0.6,0.7,0.8,0.9,1], "labels": false, "title": null}},
  "y": {"field": "s", "type": "quantitative", "scale": {"type": "log", "domain": [0.0001, 0.16], "nice": false}, "axis": {"orient": "right", "domain": false, "values": [0.0001,0.0002,0.0003,0.0004,0.0005,0.0006,0.0007,0.0008,0.0009,0.001,0.002,0.003,0.004,0.005,0.006,0.007,0.008,0.009,0.01,0.02,0.03,0.04,0.05,0.06,0.07,0.08,0.09,0.1], "labels": false, "title": null}},
  "text": {"field": "t"}
 }},
{"data": {"name": "b_let"}, "mark": {"type": "text", "fontSize": 10, "fontWeight": "bold", "font": "Liberation Sans", "color": "black", "align": "center", "baseline": "middle"},
 "encoding": {
  "x": {"field": "c", "type": "quantitative", "scale": {"type": "log", "domain": [0.3, 1.09], "nice": false}, "axis": null},
  "y": {"field": "s", "type": "quantitative", "scale": {"type": "log", "domain": [0.0001, 0.16], "nice": false}, "axis": null},
  "text": {"field": "t"}
 }}
],
"resolve": {"axis": {"x": "independent", "y": "independent"}}
}
], "spacing": 11},
{"hconcat": [
{
"width": 253, "height": 170,
"view": {"stroke": "#222", "strokeWidth": 1.5},
"title": {"text": "fraction", "orient": "bottom", "anchor": "middle", "fontSize": 8, "fontStyle": "italic", "fontWeight": "normal", "font": "Liberation Sans", "dx": 14, "offset": -2},
"layer": [
{"data": {"name": "c"}, "mark": {"type": "point", "shape": "circle", "filled": false, "color": "black", "size": 20, "strokeWidth": 1.3, "opacity": 1},
 "encoding": {
  "x": {"field": "c", "type": "quantitative", "scale": {"type": "log", "domain": [0.051, 1.08], "nice": false}, "axis": {"orient": "bottom", "domain": false, "values": [0.06,0.07,0.08,0.09,0.1,0.2,0.3,0.4,0.5,0.6,0.7,0.8,0.9,1], "labelExpr": "datum.value == 0.1 ? '0.1' : datum.value == 1 ? '1' : ''", "title": "C", "titleFontStyle": "italic", "titleFontSize": 18, "titleFontWeight": "normal", "titlePadding": -6, "labelPadding": 10}},
  "y": {"field": "s", "type": "quantitative", "scale": {"type": "log", "domain": [0.0001, 0.16], "nice": false}, "axis": {"orient": "left", "domain": false, "values": [0.0001,0.0002,0.0003,0.0004,0.0005,0.0006,0.0007,0.0008,0.0009,0.001,0.002,0.003,0.004,0.005,0.006,0.007,0.008,0.009,0.01,0.02,0.03,0.04,0.05,0.06,0.07,0.08,0.09,0.1], "labelExpr": "datum.value == 0.1 ? '0.1' : datum.value == 0.01 ? '0.01' : datum.value == 0.001 ? '1×10⁻³' : datum.value == 0.0001 ? '1×10⁻⁴' : ''", "labelFontWeight": {"condition": {"test": "datum.value < 0.005", "value": "bold"}, "value": "normal"}, "title": "fractional avalanche size, s", "titleFontSize": 15.5, "titleFontWeight": "normal", "titlePadding": 8, "labelPadding": 10}}
 }},
{"data": {"name": "c_lab"}, "mark": {"type": "text", "fontSize": 15, "font": "Liberation Sans", "color": "black", "align": "center", "baseline": "middle"},
 "encoding": {
  "x": {"field": "c", "type": "quantitative", "scale": {"type": "log", "domain": [0.051, 1.08], "nice": false}, "axis": {"orient": "top", "domain": false, "values": [0.06,0.07,0.08,0.09,0.1,0.2,0.3,0.4,0.5,0.6,0.7,0.8,0.9,1], "labels": false, "title": null}},
  "y": {"field": "s", "type": "quantitative", "scale": {"type": "log", "domain": [0.0001, 0.16], "nice": false}, "axis": {"orient": "right", "domain": false, "values": [0.0001,0.0002,0.0003,0.0004,0.0005,0.0006,0.0007,0.0008,0.0009,0.001,0.002,0.003,0.004,0.005,0.006,0.007,0.008,0.009,0.01,0.02,0.03,0.04,0.05,0.06,0.07,0.08,0.09,0.1], "labels": false, "title": null}},
  "text": {"field": "t"}
 }},
{"data": {"name": "c_let"}, "mark": {"type": "text", "fontSize": 10, "fontWeight": "bold", "font": "Liberation Sans", "color": "black", "align": "center", "baseline": "middle"},
 "encoding": {
  "x": {"field": "c", "type": "quantitative", "scale": {"type": "log", "domain": [0.051, 1.08], "nice": false}, "axis": null},
  "y": {"field": "s", "type": "quantitative", "scale": {"type": "log", "domain": [0.0001, 0.16], "nice": false}, "axis": null},
  "text": {"field": "t"}
 }}
],
"resolve": {"axis": {"x": "independent", "y": "independent"}}
},
{
"width": 253, "height": 170,
"view": {"stroke": "#222", "strokeWidth": 1.5},
"title": {"text": "fraction", "orient": "bottom", "anchor": "middle", "fontSize": 8, "fontStyle": "italic", "fontWeight": "normal", "font": "Liberation Sans", "dx": 14, "offset": -2},
"layer": [
{"data": {"name": "d"}, "mark": {"type": "point", "shape": "circle", "filled": true, "color": "black", "size": 24, "opacity": 1},
 "encoding": {
  "x": {"field": "c", "type": "quantitative", "scale": {"type": "log", "domain": [0.051, 1.08], "nice": false}, "axis": {"orient": "bottom", "domain": false, "values": [0.06,0.07,0.08,0.09,0.1,0.2,0.3,0.4,0.5,0.6,0.7,0.8,0.9,1], "labelExpr": "datum.value == 0.1 ? '0.1' : datum.value == 1 ? '1' : ''", "title": "C", "titleFontStyle": "italic", "titleFontSize": 18, "titleFontWeight": "normal", "titlePadding": -6, "labelPadding": 10}},
  "y": {"field": "s", "type": "quantitative", "scale": {"type": "log", "domain": [0.0001, 0.16], "nice": false}, "axis": {"orient": "left", "domain": false, "values": [0.0001,0.0002,0.0003,0.0004,0.0005,0.0006,0.0007,0.0008,0.0009,0.001,0.002,0.003,0.004,0.005,0.006,0.007,0.008,0.009,0.01,0.02,0.03,0.04,0.05,0.06,0.07,0.08,0.09,0.1], "labelExpr": "datum.value == 0.1 ? '0.1' : datum.value == 0.01 ? '0.01' : datum.value == 0.001 ? '1×10⁻³' : datum.value == 0.0001 ? '1×10⁻⁴' : ''", "labelFontWeight": {"condition": {"test": "datum.value < 0.005", "value": "bold"}, "value": "normal"}, "title": null, "labelPadding": 10}}
 }},
{"data": {"name": "d_lab"}, "mark": {"type": "text", "fontSize": 15, "font": "Liberation Sans", "color": "black", "align": "center", "baseline": "middle"},
 "encoding": {
  "x": {"field": "c", "type": "quantitative", "scale": {"type": "log", "domain": [0.051, 1.08], "nice": false}, "axis": {"orient": "top", "domain": false, "values": [0.06,0.07,0.08,0.09,0.1,0.2,0.3,0.4,0.5,0.6,0.7,0.8,0.9,1], "labels": false, "title": null}},
  "y": {"field": "s", "type": "quantitative", "scale": {"type": "log", "domain": [0.0001, 0.16], "nice": false}, "axis": {"orient": "right", "domain": false, "values": [0.0001,0.0002,0.0003,0.0004,0.0005,0.0006,0.0007,0.0008,0.0009,0.001,0.002,0.003,0.004,0.005,0.006,0.007,0.008,0.009,0.01,0.02,0.03,0.04,0.05,0.06,0.07,0.08,0.09,0.1], "labels": false, "title": null}},
  "text": {"field": "t"}
 }},
{"data": {"name": "d_let"}, "mark": {"type": "text", "fontSize": 10, "fontWeight": "bold", "font": "Liberation Sans", "color": "black", "align": "center", "baseline": "middle"},
 "encoding": {
  "x": {"field": "c", "type": "quantitative", "scale": {"type": "log", "domain": [0.051, 1.08], "nice": false}, "axis": null},
  "y": {"field": "s", "type": "quantitative", "scale": {"type": "log", "domain": [0.0001, 0.16], "nice": false}, "axis": null},
  "text": {"field": "t"}
 }}
],
"resolve": {"axis": {"x": "independent", "y": "independent"}}
}
], "spacing": 11}
],
"spacing": -6,
"config": {
 "font": "Liberation Sans",
 "axis": {"grid": false, "tickSize": -4, "tickColor": "#222", "tickWidth": 1, "labelFontSize": 15, "labelColor": "black", "labelFont": "Liberation Sans", "titleFont": "Liberation Sans", "titleColor": "black", "labelOverlap": false, "labelFlush": false, "labelBound": false}
}
}
